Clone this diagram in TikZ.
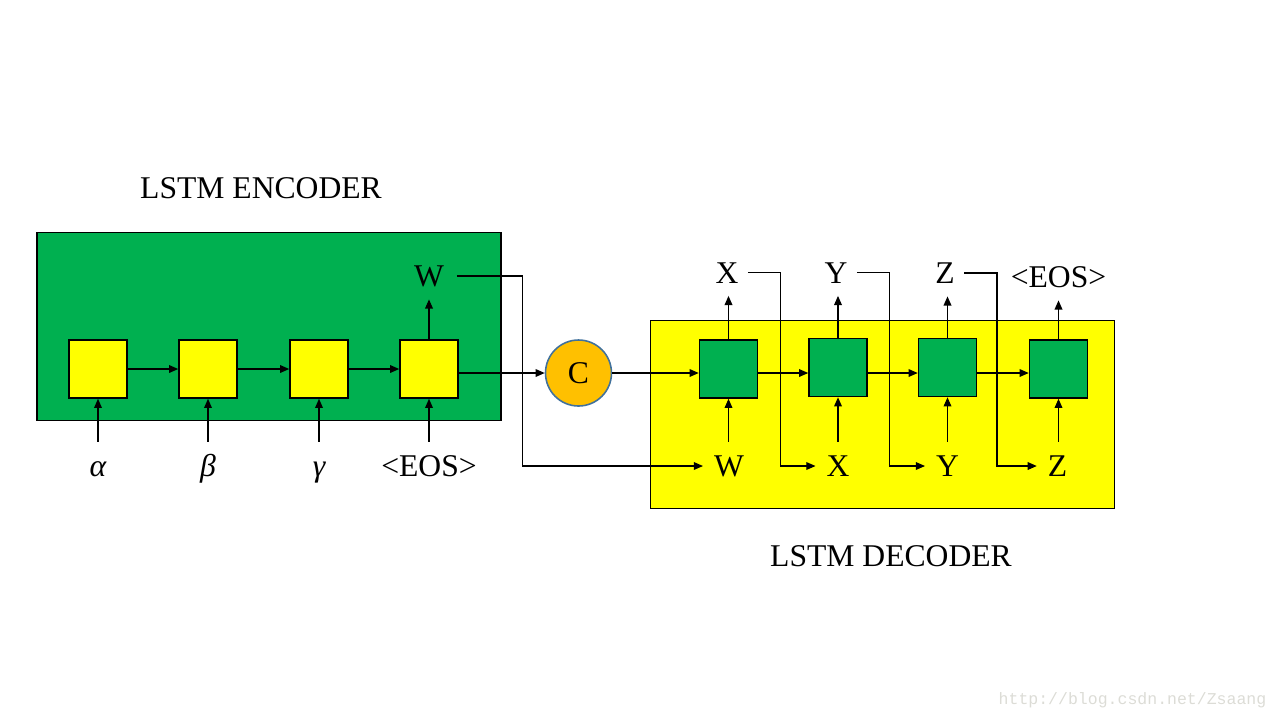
\documentclass[tikz,border=0pt]{standalone}
\usepackage{fontspec}
\setmainfont{Liberation Serif}
\newfontfamily\markfont{Liberation Mono}
\usetikzlibrary{positioning, arrows.meta}
\definecolor{cellgreen}{HTML}{00B050}
\definecolor{cellyellow}{HTML}{FFFF00}
\definecolor{ctxorange}{HTML}{FFC000}
\definecolor{ctxedge}{HTML}{41719C}
\definecolor{markgray}{RGB}{220,220,214}

\begin{document}
\begin{tikzpicture}[x=0.1mm, y=-0.1mm, font=\fontsize{9}{11}\selectfont,
        >={Triangle[length=2.6pt,width=2.2pt]}, line width=0.32pt,
        panel/.style={draw, line width=0.45pt, minimum width=46.4mm, minimum height=18.8mm, inner sep=0pt},
        cell/.style={draw, line width=0.45pt, minimum size=5.8mm, inner sep=0pt},
        word/.style={inner xsep=2pt, inner ysep=0pt, text height=6pt, text depth=0pt},
        inarrow/.style={->, shorten <=3.8pt},
        outarrow/.style={->, shorten >=3.5pt},
        backarrow/.style={->, shorten >=1pt}]
                \useasboundingbox (0,0) rectangle (1280,720);

                % Draw the two panels
                \node[panel, fill=cellgreen] (enc) at (269,326.5) {};
                \node[panel, fill=cellyellow] (dec) at (882.5,414.5) {};

                \node[word] (enctitle) at (261,188) {LSTM ENCODER};
                \node[word] (dectitle) at (891,556) {LSTM DECODER};

                % Draw encoder cells
                \node[cell, fill=cellyellow] (e1) at (98,369) {};
                \node[cell, fill=cellyellow] (e2) at (208,369) {};
                \node[cell, fill=cellyellow] (e3) at (319,369) {};
                \node[cell, fill=cellyellow] (e4) at (429,369) {};

                % Draw the context vector
                \node[circle, draw=ctxedge, line width=0.45pt, fill=ctxorange, minimum size=6.6mm, inner sep=0pt] (cc) at (578.5,373) {C};

                % Draw decoder cells
                \node[cell, fill=cellgreen] (d1) at (728.5,369) {};
                \node[cell, fill=cellgreen] (d2) at (838,367.5) {};
                \node[cell, fill=cellgreen] (d3) at (947.5,367.5) {};
                \node[cell, fill=cellgreen] (d4) at (1058.5,369) {};

                % Draw encoder words
                \node[word] (ain) at (98,466) {\itshape α};
                \node[word] (bin) at (208,466) {\itshape β};
                \node[word] (gin) at (319,466) {\itshape γ};
                \node[word] (eosin) at (429,466) {<EOS>};
                \node[word] (wout) at (429,276) {W};

                % Draw decoder words
                \node[word] (win) at (729,466) {W};
                \node[word] (xin) at (838,466) {X};
                \node[word] (yin) at (947.5,466) {Y};
                \node[word] (zin) at (1057.5,466) {Z};

                \node[word] (xout) at (727,272.5) {X};
                \node[word] (yout) at (836,272.5) {Y};
                \node[word] (zout) at (945,273) {Z};
                \node[word] (eosout) at (1058.5,277) {<EOS>};

                % Draw edges inside the encoder
                \draw[->] (e1) -- (e2);
                \draw[->] (e2) -- (e3);
                \draw[->] (e3) -- (e4);
                \draw[->] (e4.east |- cc) -- (cc);

                \draw[inarrow] (e1.south |- ain.north) -- (e1.south);
                \draw[inarrow] (e2.south |- bin.north) -- (e2.south);
                \draw[inarrow] (e3.south |- gin.north) -- (e3.south);
                \draw[inarrow] (e4.south |- eosin.north) -- (e4.south);
                \draw[outarrow] (e4.north) -- (e4.north |- wout.south);

                % Draw edges inside the decoder
                \draw[->] (cc) -- (d1.west |- cc);
                \draw[->] (d1.east |- cc) -- (d2.west |- cc);
                \draw[->] (d2.east |- cc) -- (d3.west |- cc);
                \draw[->] (d3.east |- cc) -- (d4.west |- cc);

                \draw[inarrow] (d1.south |- win.north) -- (d1.south);
                \draw[inarrow] (d2.south |- xin.north) -- (d2.south);
                \draw[inarrow] (d3.south |- yin.north) -- (d3.south);
                \draw[inarrow] (d4.south |- zin.north) -- (d4.south);

                \draw[outarrow] (d1.north) -- (d1.north |- xout.south);
                \draw[outarrow] (d2.north) -- (d2.north |- yout.south);
                \draw[outarrow] (d3.north) -- (d3.north |- zout.south);
                \draw[outarrow] (d4.north) -- (d4.north |- eosout.south);

                % Draw edges that feed each output back in
                \draw[backarrow] ([xshift=1.5pt]wout.east) -- ++(66,0) |- (win.west);
                \draw[backarrow] ([xshift=0.5pt]xout.east) -- ++(33,0) |- (xin.west);
                \draw[backarrow] ([xshift=0.5pt]yout.east) -- ++(33,0) |- (yin.west);
                \draw[backarrow] ([xshift=0.5pt]zout.east) -- ++(33,0) |- (zin.west);

                % Draw the watermark
                \node[text=markgray, font=\markfont\fontsize{4.7}{5}\selectfont] (mark) at (1132.5,700) {http://blog.csdn.net/Zsaang};
    \end{tikzpicture}
\end{document}
